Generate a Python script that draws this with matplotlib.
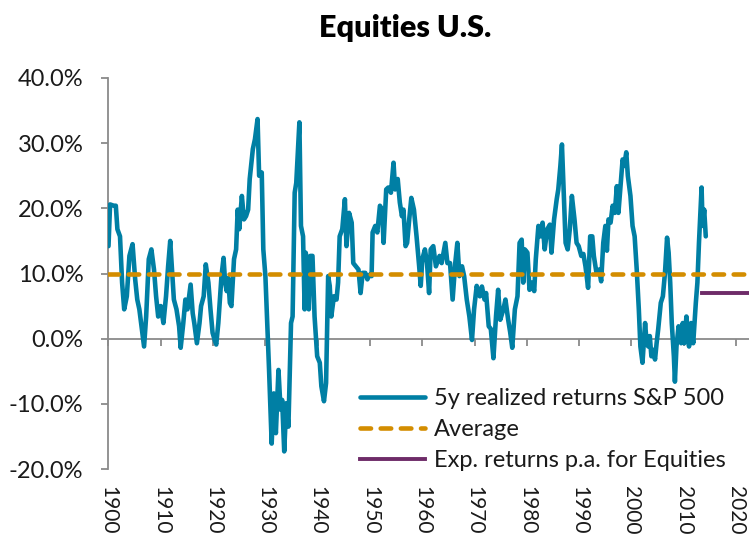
import matplotlib
matplotlib.use("Agg")
import matplotlib.pyplot as plt
from matplotlib.ticker import FuncFormatter

# ---------------- data ----------------
years = [
    1900.0, 1900.3, 1901.0, 1901.4, 1901.7, 1902.2, 1902.6, 1903.0, 1903.5, 1904.0,
    1904.6, 1905.1, 1905.5, 1905.9, 1906.4, 1906.8, 1907.2, 1907.7, 1908.2, 1908.7,
    1909.1, 1909.5, 1910.0, 1910.5, 1911.0, 1911.4, 1911.8, 1912.1, 1912.5, 1913.0,
    1913.5, 1913.8, 1914.3, 1914.7, 1915.1, 1915.7, 1916.1, 1916.4, 1916.9, 1917.4,
    1917.7, 1918.2,
    1918.6, 1919.1, 1919.5, 1919.9, 1920.3, 1920.6, 1921.0, 1921.3, 1921.6, 1922.0,
    1922.3, 1922.6, 1922.9, 1923.2, 1923.5, 1924.0, 1924.4, 1924.7, 1925.0, 1925.5,
    1925.9, 1926.3, 1926.7, 1927.0, 1927.6, 1928.0, 1928.5, 1928.8, 1929.3, 1929.6,
    1930.0, 1930.3, 1930.7, 1931.2, 1931.6, 1932.0, 1932.5, 1932.9, 1933.2, 1933.6,
    1934.0, 1934.4, 1934.9, 1935.2, 1935.6, 1935.9, 1936.5, 1936.8, 1937.2, 1937.5,
    1937.7, 1938.1,
    1938.3, 1938.6, 1939.0, 1939.4, 1939.9, 1940.4, 1940.7, 1941.2, 1941.6, 1942.0,
    1942.3, 1942.6, 1943.1, 1943.6, 1943.9, 1944.2, 1944.7, 1945.2, 1945.5, 1946.0,
    1946.5, 1946.8, 1947.3, 1947.8, 1948.2, 1948.6, 1949.1, 1949.5, 1949.9, 1950.3,
    1950.5, 1951.0, 1951.4, 1951.9, 1952.3, 1952.6, 1953.1, 1953.5, 1954.0, 1954.5,
    1954.8, 1955.3, 1955.7, 1956.1, 1956.4, 1956.8,
    1957.1, 1957.5, 1957.9, 1958.4, 1958.9, 1959.4, 1959.7, 1960.0, 1960.5, 1960.9,
    1961.3, 1961.6, 1962.1, 1962.6, 1963.3, 1963.7, 1964.4, 1964.8, 1965.3, 1965.8,
    1966.3, 1966.7, 1967.1, 1967.6, 1968.0, 1968.5, 1969.0, 1969.5, 1969.9, 1970.4,
    1971.0, 1971.4, 1971.9, 1972.2, 1972.7, 1973.1, 1973.6, 1974.1, 1974.5, 1974.9,
    1975.5, 1975.9, 1976.4, 1976.8, 1977.2, 1977.7, 1978.2, 1978.6, 1979.0, 1979.3,
    1979.6, 1980.1, 1980.5, 1980.9, 1981.4, 1981.7, 1982.2, 1982.6, 1983.0, 1983.4,
    1983.9, 1984.4, 1984.7, 1985.2, 1985.7, 1986.0, 1986.4, 1986.7, 1987.0, 1987.4,
    1987.8, 1988.2, 1988.6, 1989.1, 1989.5, 1989.9, 1990.4, 1990.8, 1991.2, 1991.7,
    1992.1, 1992.5, 1992.8, 1993.3, 1993.8, 1994.2, 1994.6, 1995.0, 1995.3, 1995.6,
    1996.0, 1996.4, 1996.8, 1997.2, 1997.5, 1997.9, 1998.3, 1998.6, 1999.0, 1999.3,
    1999.8, 2000.2, 2000.6, 2001.0, 2001.4, 2001.7, 2002.1, 2002.6, 2002.9, 2003.2,
    2003.5, 2003.8, 2004.1, 2004.5, 2004.8, 2005.1, 2005.6, 2006.0, 2006.4, 2006.8,
    2007.1, 2007.4, 2007.7, 2008.1, 2008.3, 2008.6, 2009.0, 2009.5, 2009.8, 2010.1,
    2010.5, 2011.0, 2011.4, 2011.8, 2012.3, 2012.6, 2012.9, 2013.4, 2013.6, 2013.9,
    2014.2,
]
returns = [
    14.2, 20.6, 20.4, 20.4, 16.8, 15.7, 8.6, 4.5, 6.5, 12.7,
    14.5, 9.1, 6.0, 4.5, 1.4, -1.2, 3.4, 12.2, 13.7, 10.6,
    6.5, 3.4, 5.0, 2.4, 6.5, 11.1, 15.0, 11.1, 6.0, 4.5,
    1.9, -1.4, 2.4, 6.0, 4.5, 8.3, 3.9, 2.4, -0.7, 2.4,
    5.0, 6.5,
    11.4, 8.6, 4.5, 0.9, -0.2, -0.9, 2.4, 6.0, 9.6, 12.4,
    8.6, 7.3, 9.3, 5.5, 5.0, 12.2, 13.7, 19.8, 16.8, 21.9,
    18.3, 18.8, 19.8, 24.5, 29.1, 30.6, 33.7, 25.0, 25.5, 13.7,
    9.6, 3.4, -4.8, -16.1, -8.4, -14.5, -4.8, -10.9, -9.4, -17.3,
    -9.9, -13.5, 2.4, 3.4, 22.4, 23.9, 33.2, 17.3, 15.7, 4.5,
    13.2, 11.6,
    4.5, 12.7, 12.7, 3.4, -2.7, -3.7, -7.3, -9.6, -6.8, 9.6,
    8.1, 3.4, 6.5, 6.0, 8.6, 15.7, 16.8, 21.4, 14.2, 19.3,
    17.8, 11.6, 11.1, 10.6, 7.0, 10.1, 10.1, 9.1, 9.8, 9.6,
    16.3, 17.3, 16.3, 20.4, 19.8, 14.7, 22.9, 23.2, 22.4, 27.0,
    22.9, 24.5, 20.9, 18.8, 19.8, 14.2,
    14.7, 18.3, 21.6, 19.8, 15.7, 11.1, 8.1, 12.2, 13.7, 11.6,
    7.0, 13.7, 14.2, 11.1, 12.7, 11.6, 14.7, 11.6, 11.6, 6.0,
    11.6, 14.7, 9.6, 11.1, 9.6, 6.0, 3.4, -0.2, 4.5, 8.1,
    6.5, 8.0, 6.0, 7.0, 1.9, 1.5, -3.0, 3.5, 7.5, 2.9,
    4.5, 6.0, 3.0, 1.0, -1.4, 4.5, 6.5, 14.7, 15.2, 8.6,
    13.7, 13.2, 7.5, 8.6, 7.3, 12.2, 17.3, 15.7, 17.8, 13.7,
    16.8, 17.5, 13.2, 18.3, 21.4, 22.9, 26.5, 29.8, 23.4, 14.7,
    13.7, 16.8, 21.9, 18.3, 14.7, 14.2, 12.7, 13.0, 11.1, 7.8,
    15.7, 15.7, 12.7, 10.1, 10.6, 8.8, 14.7, 17.3, 13.5, 18.3,
    17.8, 20.4, 19.3, 23.4, 19.3, 23.4, 27.5, 26.5, 28.6, 25.0,
    21.9, 17.3, 15.7, 10.6, 4.5, -1.2, -3.7, 2.4, -0.7, -1.2,
    0.4, -2.7, -1.7, -3.2, -0.7, 1.4, 5.5, 6.5, 10.1, 15.5,
    13.2, 8.6, 2.4, -2.7, -6.6, -1.2, 1.9, -0.7, 2.4, -0.7,
    3.4, -1.2, 2.4, -0.7, 5.5, 8.6, 14.7, 23.2, 17.3, 19.8,
    15.7,
]
avg_years = [1900, 2023]
avg_return = 10.0
exp_years = [2013.5, 2023]
exp_return = 7.0
tick_years = list(range(1900, 2030, 10))
tick_labels = [str(y) for y in tick_years]
ytick_vals = [-20, -10, 0, 10, 20, 30, 40]
series_labels = ["5y realized returns S&P 500", "Average", "Exp. returns p.a. for Equities"]
title = "Equities U.S."

# ---------------- style ----------------
BLUE = "#007FA4"
ORANGE = "#D38D00"
PURPLE = "#6E2B68"
GRAY = "#8A8A8A"
TEXT = "#1A1A1A"

plt.rcParams["font.family"] = ["Lato", "DejaVu Sans"]

W, H = 749, 538
fig = plt.figure(figsize=(W / 100, H / 100), dpi=100)
left_px, right_px, top_px, bot_px = 108.5, 749.0, 78.0, 469.0
ax = fig.add_axes([left_px / W, 1 - bot_px / H, (right_px - left_px) / W, (bot_px - top_px) / H])

ax.plot(years, returns, color=BLUE, lw=3.3, solid_joinstyle="round",
        solid_capstyle="round", label=series_labels[0], zorder=3)
ax.plot(avg_years, [avg_return, avg_return], color=ORANGE, lw=3.3,
        dashes=(2.3, 2.1), dash_capstyle="round", label=series_labels[1], zorder=4)
ax.plot(exp_years, [exp_return, exp_return], color=PURPLE, lw=2.8,
        label=series_labels[2], zorder=5)

ax.set_xlim(1900, 1900 + (right_px - left_px) / 5.23)
ax.set_ylim(-20, 40)

for s in ("top", "right"):
    ax.spines[s].set_visible(False)
ax.spines["bottom"].set_position(("data", 0))
for s in ("left", "bottom"):
    ax.spines[s].set_color(GRAY)
    ax.spines[s].set_linewidth(1.3)

ax.set_xticks(tick_years)
ax.tick_params(axis="x", direction="out", length=5, width=1.3, color=GRAY,
               labelbottom=False)
ax.set_yticks(ytick_vals)
ax.yaxis.set_major_formatter(FuncFormatter(lambda v, p: f"{v:.1f}%"))
ax.tick_params(axis="y", direction="out", length=5, width=1.3, color=GRAY,
               pad=13, labelsize=17, labelcolor=TEXT)

sec = ax.secondary_xaxis(0)
sec.set_xticks(tick_years, labels=tick_labels)
sec.spines["bottom"].set_visible(False)
sec.tick_params(axis="x", length=0, pad=12, labelsize=15, labelcolor=TEXT,
                labelrotation=-90)

leg = ax.legend(loc="upper left", bbox_to_anchor=(360 / W, 1 - 388 / H),
                bbox_transform=fig.transFigure, frameon=False, fontsize=17,
                handlelength=2.75, handletextpad=0.4, labelspacing=0.42,
                borderpad=0, borderaxespad=0)
for t in leg.get_texts():
    t.set_color(TEXT)

fig.text(405 / W, 1 - 28 / H, title, ha="center", va="center",
         fontsize=22, fontweight="heavy", color="black")

fig.savefig("out.png", dpi=100)
